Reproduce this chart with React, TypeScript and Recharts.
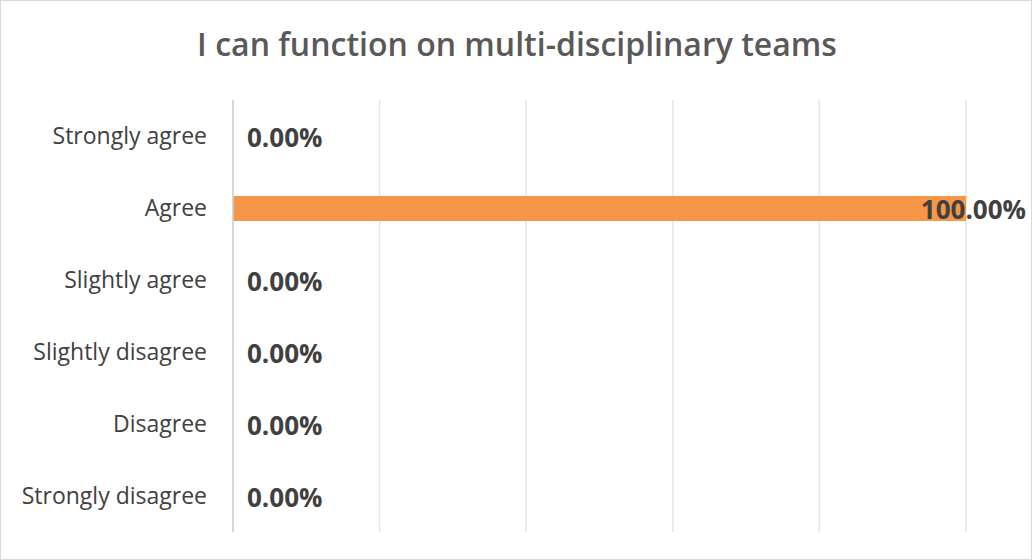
import { BarChart, Bar, XAxis, YAxis, CartesianGrid, LabelList } from 'recharts';

const categories = [
  'Strongly agree',
  'Agree',
  'Slightly agree',
  'Slightly disagree',
  'Disagree',
  'Strongly disagree',
];
const percentages = [0, 100, 0, 0, 0, 0];
const xTicks = [0, 20, 40, 60, 80, 100];

const CHART_W = 1032;
const CHART_H = 560;
const FONT = '"Open Sans", "Noto Sans", sans-serif';

const rows = categories.map((name, i) => ({ name, value: percentages[i] }));

// eslint-disable-next-line @typescript-eslint/no-explicit-any
const ValueLabel = (props: any) => {
  const { x, y, width, height, value } = props;
  const text = `${Number(value).toFixed(2)}%`;
  const approxWidth = text.length * 15;
  let tx = x + width + 14;
  let anchor: 'start' | 'end' = 'start';
  // keep label inside chart area like Excel does
  if (tx + approxWidth > CHART_W - 6) {
    tx = CHART_W - 7;
    anchor = 'end';
  }
  return (
    <text
      x={tx}
      y={y + height / 2}
      textAnchor={anchor}
      dominantBaseline="central"
      fill="#404040"
      fontSize={26}
      fontWeight={700}
      fontFamily={FONT}
    >
      {text}
    </text>
  );
};

const NoTick = () => <g />;

export default function App() {
  return (
    <div
      style={{
        position: 'absolute',
        left: 0,
        top: 0,
        width: CHART_W,
        height: CHART_H,
        boxSizing: 'border-box',
        border: '1px solid #d9d9d9',
        background: '#fff',
        fontFamily: FONT,
      }}
    >
      <div
        style={{
          position: 'absolute',
          left: 0,
          top: 21,
          width: CHART_W,
          textAlign: 'center',
          fontSize: 32,
          fontWeight: 600,
          color: '#595959',
        }}
      >
        I can function on multi-disciplinary teams
      </div>
      <BarChart
        width={CHART_W - 2}
        height={CHART_H - 2}
        data={rows}
        layout="vertical"
        margin={{ top: 99, right: 65, left: 0, bottom: 26 }}
        barCategoryGap={0}
      >
        <CartesianGrid horizontal={false} stroke="#e6e6e6" strokeWidth={1.5} />
        <XAxis
          type="number"
          domain={[0, 100]}
          ticks={xTicks}
          tick={<NoTick />}
          axisLine={false}
          tickLine={false}
          height={1}
        />
        <YAxis
          type="category"
          dataKey="name"
          width={232}
          axisLine={{ stroke: '#d0d0d0', strokeWidth: 1.5 }}
          tickLine={false}
          tickMargin={20}
          tick={{ fill: '#404040', fontSize: 23, fontFamily: FONT }}
        />
        <Bar
          dataKey="value"
          fill="#F79646"
          barSize={25}
          minPointSize={0.001}
          isAnimationActive={false}
        >
          <LabelList dataKey="value" content={<ValueLabel />} />
        </Bar>
      </BarChart>
    </div>
  );
}
